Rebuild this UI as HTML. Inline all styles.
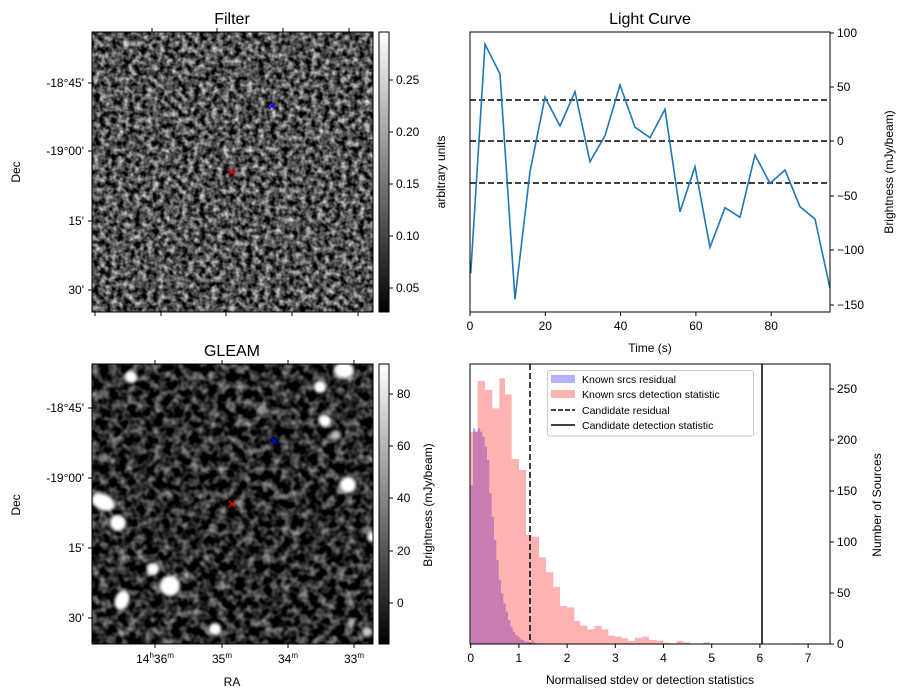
<!DOCTYPE html>
<html><head><meta charset="utf-8"><style>
html,body{margin:0;padding:0;background:#fff}
svg{display:block;font-family:"Liberation Sans","DejaVu Sans",sans-serif}
</style></head><body>
<svg id="s" width="907" height="699" viewBox="0 0 907 699" xmlns="http://www.w3.org/2000/svg">
<defs>
<filter id="nf" x="92" y="32" width="281" height="280" filterUnits="userSpaceOnUse" color-interpolation-filters="sRGB">
<feTurbulence type="fractalNoise" baseFrequency="0.17" numOctaves="2" seed="3" result="t"/>
<feColorMatrix in="t" type="matrix" values="1.4 0 0 0 -0.38  1.4 0 0 0 -0.38  1.4 0 0 0 -0.38  0 0 0 0 1"/>
</filter>
<filter id="ng" x="92" y="364" width="281" height="280" filterUnits="userSpaceOnUse" color-interpolation-filters="sRGB">
<feTurbulence type="fractalNoise" baseFrequency="0.11" numOctaves="2" seed="7" result="t"/>
<feColorMatrix in="t" type="matrix" values="1.2 0 0 0 -0.44  1.2 0 0 0 -0.44  1.2 0 0 0 -0.44  0 0 0 0 1"/>
</filter>
<filter id="bl" x="80" y="350" width="310" height="310" filterUnits="userSpaceOnUse"><feGaussianBlur stdDeviation="1.5"/></filter>
<linearGradient id="cb" x1="0" y1="1" x2="0" y2="0"><stop offset="0" stop-color="#000"/><stop offset="1" stop-color="#fff"/></linearGradient>
<clipPath id="c2"><rect x="92" y="364" width="281" height="280"/></clipPath>
<clipPath id="c3"><rect x="470" y="32" width="360" height="280"/></clipPath>
</defs>
<g font-size="12" fill="#000">
<rect x="92" y="32" width="281" height="280" fill="#444" filter="url(#nf)"/>
<rect x="92" y="32" width="281" height="280" fill="none" stroke="#000" stroke-width="1"/>
<text x="232" y="24" font-size="16" text-anchor="middle">Filter</text>
<g stroke="#000" stroke-width="1">
<path d="M92 83h-4M92 151h-4M92 221h-4M92 290h-4"/>
<path d="M152 32v-4M217 32v-4M283 32v-4M349 32v-4"/>
<path d="M95 312v4M161 312v4M226 312v4M292 312v4M358 312v4"/>
<path d="M373 71h-4M373 140h-4M373 210h-4M373 279h-4"/>
</g>
<g text-anchor="end"><text x="84" y="87">-18°45'</text><text x="84" y="155">-19°00'</text><text x="84" y="225">15'</text><text x="84" y="294">30'</text></g>
<text transform="translate(20,172) rotate(-90)" text-anchor="middle">Dec</text>
<g stroke="#f00" stroke-width="1.3"><path d="M229 169l6 6M235 169l-6 6"/></g>
<g stroke="#00f" stroke-width="1.3"><path d="M269 103l6 6M275 103l-6 6"/></g>
<rect x="379" y="32" width="10" height="280" fill="url(#cb)" stroke="#000"/>
<g stroke="#000"><path d="M389 80h4M389 132h4M389 184h4M389 236h4M389 288h4"/></g>
<g><text x="396" y="84">0.25</text><text x="396" y="136">0.20</text><text x="396" y="188">0.15</text><text x="396" y="240">0.10</text><text x="396" y="292">0.05</text></g>
<text transform="translate(445,172) rotate(-90)" text-anchor="middle">arbitrary units</text>

<rect x="92" y="364" width="281" height="280" fill="#333" filter="url(#ng)"/>
<g clip-path="url(#c2)"><g fill="#fff" filter="url(#bl)">
<ellipse cx="103" cy="502" rx="12" ry="8" transform="rotate(25 103 502)"/>
<circle cx="118" cy="523" r="8"/><circle cx="170" cy="586" r="10"/>
<ellipse cx="122" cy="600" rx="7" ry="10" transform="rotate(20 122 600)"/>
<circle cx="153" cy="569" r="6"/><circle cx="131" cy="377" r="6"/>
<circle cx="215" cy="629" r="6"/><circle cx="320" cy="387" r="6"/>
<circle cx="325" cy="421" r="6"/><circle cx="348" cy="485" r="8"/>
<ellipse cx="344" cy="370" rx="10" ry="8"/><circle cx="336" cy="435" r="5" opacity=".7"/>
<circle cx="372" cy="537" r="5"/><circle cx="367" cy="632" r="5" opacity=".8"/>
<circle cx="262" cy="410" r="5" opacity=".5"/><circle cx="351" cy="622" r="4" opacity=".5"/>
</g></g>
<rect x="92" y="364" width="281" height="280" fill="none" stroke="#000"/>
<text x="232" y="356" font-size="16" text-anchor="middle">GLEAM</text>
<g stroke="#000">
<path d="M92 408h-4M92 478h-4M92 548h-4M92 618h-4"/>
<path d="M373 408h-4M373 478h-4M373 548h-4M373 618h-4"/>
<path d="M155 364v-4M222 364v-4M288 364v-4M354 364v-4"/>
<path d="M155 644v4M222 644v4M288 644v4M354 644v4"/>
</g>
<g text-anchor="end"><text x="84" y="412">-18°45'</text><text x="84" y="482">-19°00'</text><text x="84" y="552">15'</text><text x="84" y="622">30'</text></g>
<text transform="translate(20,505) rotate(-90)" text-anchor="middle">Dec</text>
<g text-anchor="middle">
<text x="155" y="663">14<tspan font-size="8" dy="-5">h</tspan><tspan dy="5">36</tspan><tspan font-size="8" dy="-5">m</tspan></text>
<text x="222" y="663">35<tspan font-size="8" dy="-5">m</tspan></text>
<text x="288" y="663">34<tspan font-size="8" dy="-5">m</tspan></text>
<text x="354" y="663">33<tspan font-size="8" dy="-5">m</tspan></text>
<text x="232" y="686">RA</text></g>
<g stroke="#f00" stroke-width="1.3"><path d="M229 501l6 6M235 501l-6 6"/></g>
<g stroke="#00f" stroke-width="1.3"><path d="M271 438l6 6M277 438l-6 6"/></g>
<rect x="379" y="364" width="10" height="280" fill="url(#cb)" stroke="#000"/>
<g stroke="#000"><path d="M389 394h4M389 446h4M389 498h4M389 551h4M389 603h4"/></g>
<g><text x="397" y="398">80</text><text x="397" y="450">60</text><text x="397" y="502">40</text><text x="397" y="555">20</text><text x="397" y="607">0</text></g>
<text transform="translate(432,505) rotate(-90)" text-anchor="middle">Brightness (mJy/beam)</text>

<text x="650" y="24" font-size="16" text-anchor="middle">Light Curve</text>
<g clip-path="url(#c3)">
<g stroke="#000" stroke-width="1.5" stroke-dasharray="6,3"><path d="M470 100H830M470 141H830M470 183H830"/></g>
<polyline fill="none" stroke="#1f77b4" stroke-width="1.6" points="470.7,273.3 485,44.3 500,74 515,299.3 530,171.7 545,97.3 560,126 575,91.7 590,161.7 605,135.7 620,85 635,127.3 650,137.7 665,109.3 680,211.7 695,166.7 710,247.3 725,207.7 740,217.3 755,155 770,183.3 785,170 800,206.7 815,219 830,288.3"/>
</g>
<rect x="470" y="32" width="360" height="280" fill="none" stroke="#000"/>
<g stroke="#000"><path d="M470 312v4M545.3 312v4M620.6 312v4M695.9 312v4M771.2 312v4"/>
<path d="M830 33h4M830 87h4M830 141h4M830 196h4M830 250h4M830 305h4"/></g>
<g text-anchor="middle"><text x="470" y="330">0</text><text x="545.3" y="330">20</text><text x="620.6" y="330">40</text><text x="695.9" y="330">60</text><text x="771.2" y="330">80</text><text x="650" y="352">Time (s)</text></g>
<g><text x="837" y="37">100</text><text x="837" y="91">50</text><text x="837" y="145">0</text><text x="837" y="200">−50</text><text x="837" y="254">−100</text><text x="837" y="309">−150</text></g>
<text transform="translate(893,172) rotate(-90)" text-anchor="middle">Brightness (mJy/beam)</text>

<g id="hb"></g>
<g id="hp"></g>
<line x1="530" y1="364" x2="530" y2="644" stroke="#000" stroke-width="1.5" stroke-dasharray="6,3"/>
<line x1="762" y1="364" x2="762" y2="644" stroke="#000" stroke-width="1.5"/>
<rect x="470" y="364" width="360" height="280" fill="none" stroke="#000"/>
<rect x="547.5" y="370.5" width="206" height="65.5" fill="#fff" fill-opacity=".8" stroke="#ccc" rx="2"/>
<rect x="551" y="375" width="24" height="8" fill="rgba(0,0,255,.3)"/>
<rect x="551" y="390" width="24" height="8" fill="rgba(255,0,0,.3)"/>
<path d="M551 410h24" stroke="#000" stroke-width="1.5" stroke-dasharray="5,2"/>
<path d="M551 425h24" stroke="#000" stroke-width="1.5"/>
<g font-size="10.5"><text x="582" y="383">Known srcs residual</text><text x="582" y="398">Known srcs detection statistic</text><text x="582" y="414">Candidate residual</text><text x="582" y="429">Candidate detection statistic</text></g>
<g stroke="#000"><path d="M470.7 644v4M518.9 644v4M567.1 644v4M615.3 644v4M663.5 644v4M711.7 644v4M759.9 644v4M808.1 644v4"/>
<path d="M830 644h4M830 593h4M830 542h4M830 491h4M830 440h4M830 389h4"/></g>
<g text-anchor="middle"><text x="470.7" y="662">0</text><text x="518.9" y="662">1</text><text x="567.1" y="662">2</text><text x="615.3" y="662">3</text><text x="663.5" y="662">4</text><text x="711.7" y="662">5</text><text x="759.9" y="662">6</text><text x="808.1" y="662">7</text><text x="650" y="684">Normalised stdev or detection statistics</text></g>
<g><text x="837" y="648">0</text><text x="837" y="597">50</text><text x="837" y="546">100</text><text x="837" y="495">150</text><text x="837" y="444">200</text><text x="837" y="393">250</text></g>
<text transform="translate(881,505) rotate(-90)" text-anchor="middle">Number of Sources</text>
</g>
</svg>
<script>
var ns="http://www.w3.org/2000/svg";
function bars(g,edges,tops,col){var el=document.getElementById(g);for(var i=0;i<tops.length;i++){var x0=edges[i]/3+460,x1=edges[i+1]/3+460,y=tops[i]/3+360;var r=document.createElementNS(ns,"rect");r.setAttribute("x",x0);r.setAttribute("y",y);r.setAttribute("width",x1-x0);r.setAttribute("height",Math.max(0,644-y));r.setAttribute("fill",col);el.appendChild(r);}}
var pe=[32,53,75,97,118,135,155,177,198,215,237,258,280,300,320,343,360,382,403,425,445,465,485,505,525,548,567,590,610,630,650,670,690,730,750,995,1015,1035,1057];
var pt=[215,63,90,145,55,103,297,330,525,530,592,637,681,738,742,783,797,808,798,808,827,830,835,843,833,830,840,842,848,850,843,847,932,847,932,850,932,850];
bars("hp",pe,pt,"rgba(255,0,0,.3)");
var be=[],bt=[375,205,215,205,215,230,260,300,400,470,540,600,660,700,730,755,780,800,815,825,830,838,840,845,845,848,842,848,850,852,850,850];
for(var i=0;i<=bt.length;i++)be.push(32+i*7);
bars("hb",be,bt,"rgba(0,0,255,.3)");
</script>
</body></html>
